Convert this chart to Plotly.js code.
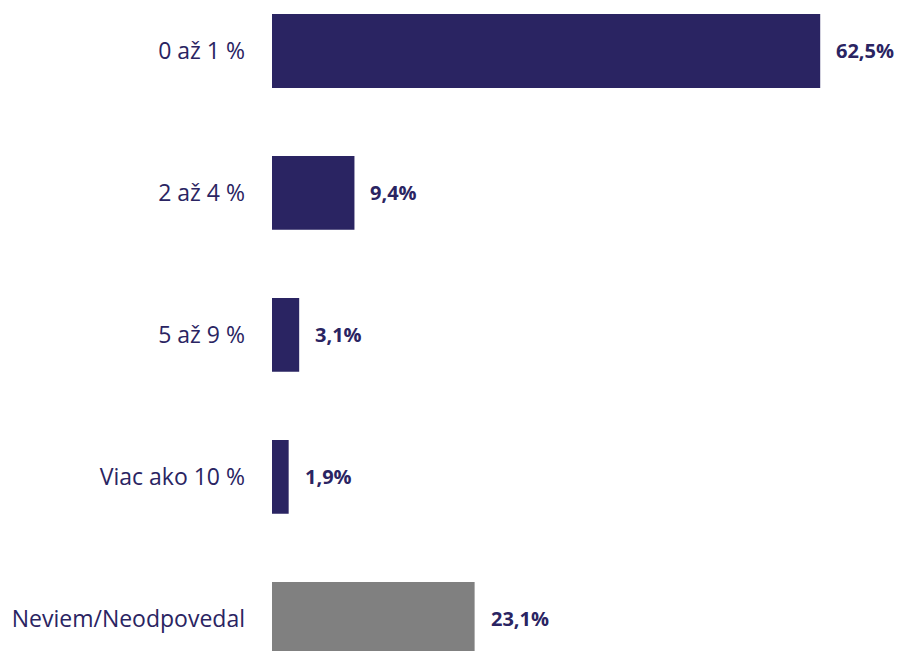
<!DOCTYPE html>
<html>
<head>
<meta charset="utf-8">
<script src="https://cdn.plot.ly/plotly-3.0.1.min.js"></script>
<style>html,body{margin:0;padding:0;background:#fff;}#chart{width:898px;height:651px;}</style>
</head>
<body>
<div id="chart"></div>
<script>
var categories = ["0 až 1 %", "2 až 4 %", "5 až 9 %", "Viac ako 10 %", "Neviem/Neodpovedal"];
var values = [62.5, 9.4, 3.1, 1.9, 23.1];
var valueLabels = ["62,5%", "9,4%", "3,1%", "1,9%", "23,1%"];
var barColors = ["#2A2462", "#2A2462", "#2A2462", "#2A2462", "#808080"];

var trace = {
  type: 'bar',
  orientation: 'h',
  y: categories,
  x: values,
  marker: {color: barColors},
  width: 0.52,
  hoverinfo: 'none'
};

var annotations = categories.map(function(c, i){
  return {
    x: values[i], y: c, xref: 'x', yref: 'y',
    text: '<b>' + valueLabels[i] + '</b>',
    showarrow: false, xanchor: 'left', xshift: 14,
    font: {family: 'Open Sans, sans-serif', size: 20, color: '#2A2462'}
  };
});

var layout = {
  width: 898, height: 651,
  margin: {l: 272, r: 12, t: 0, b: 0},
  paper_bgcolor: '#fff', plot_bgcolor: '#fff',
  showlegend: false,
  xaxis: {range: [0, 70], visible: false, fixedrange: true},
  yaxis: {
    type: 'category', categoryorder: 'array', categoryarray: categories,
    range: [4.226, -0.359],
    showgrid: false, zeroline: false, showline: false, ticks: '',
    ticklabelstandoff: 26,
    tickfont: {family: 'Open Sans, sans-serif', size: 23, color: '#2A2462'}
  },
  annotations: annotations
};

Plotly.newPlot('chart', [trace], layout, {displayModeBar: false, staticPlot: true});
</script>
</body>
</html>
